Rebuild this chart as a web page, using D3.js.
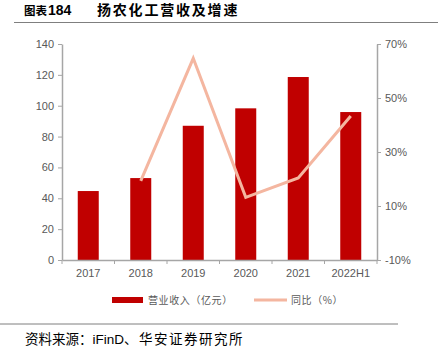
<!DOCTYPE html>
<html><head><meta charset="utf-8">
<script src="https://cdn.jsdelivr.net/npm/d3@7"></script>
<style>body{margin:0;background:#fff}svg{display:block}</style>
</head><body>
<script>
const categories = ["2017","2018","2019","2020","2021","2022H1"];
const revenue = [44.7, 53.1, 87.0, 98.3, 118.6, 95.9];
const growth = [null, 19.3, 64.7, 13.2, 20.4, 43.3];
const leftTicks = [0,20,40,60,80,100,120,140];
const rightTicks = [-10,10,30,50,70];

const W=438,H=353;
const svg=d3.select("body").append("svg").attr("width",W).attr("height",H);
const font="Liberation Sans, Arial, 'Noto Sans CJK SC', sans-serif";
const cjk="'Noto Sans CJK SC', sans-serif";
const axisColor="#a6a6a6", textColor="#595959";

// title
const t=svg.append("text").attr("y",15).attr("font-family",cjk).attr("font-weight","bold").attr("fill","#000");
t.append("tspan").attr("x",24).attr("font-size",11.5).attr("letter-spacing",0).text("图表");
t.append("tspan").attr("x",48).attr("font-family",font).attr("font-size",14).text("184");
t.append("tspan").attr("x",97).attr("font-size",14).attr("letter-spacing",1.8).text("扬农化工营收及增速");
svg.append("line").attr("x1",14).attr("x2",438).attr("y1",22.5).attr("y2",22.5).attr("stroke","#7f7f7f").attr("stroke-width",1);

const x0=62,x1=377,yTop=44,yBot=260;
const xb=d3.scaleBand().domain(categories).range([x0,x1]);
const yL=d3.scaleLinear().domain([0,140]).range([yBot,yTop]);
const yR=d3.scaleLinear().domain([-10,70]).range([yBot,yTop]);

// bars
svg.selectAll("rect.bar").data(categories).enter().append("rect")
  .attr("x",d=>xb(d)+xb.bandwidth()/2-10.5).attr("width",21)
  .attr("y",(d,i)=>yL(revenue[i])).attr("height",(d,i)=>yBot-yL(revenue[i]))
  .attr("fill","#C00000");

// axes
function styleAxis(g){
  g.selectAll("path,line").attr("stroke",axisColor);
  g.selectAll("text").attr("fill",textColor).attr("font-family",font).attr("font-size",11);
  g.select(".domain").attr("stroke-width",1.5);
}
const gl=svg.append("g").attr("transform",`translate(${x0},0)`)
  .call(d3.axisLeft(yL).tickValues(leftTicks).tickSize(4).tickSizeOuter(0).tickPadding(4));
styleAxis(gl);
const gr=svg.append("g").attr("transform",`translate(${x1},0)`)
  .call(d3.axisRight(yR).tickValues(rightTicks).tickFormat(d=>d+"%").tickSize(4).tickSizeOuter(0).tickPadding(4));
styleAxis(gr);
const gx=svg.append("g").attr("transform",`translate(0,${yBot})`)
  .call(d3.axisBottom(xb).tickSize(0).tickPadding(9));
styleAxis(gx);
const bounds=categories.map(c=>xb(c)).concat([x1]);
svg.selectAll("line.bt").data(bounds).enter().append("line")
  .attr("x1",d=>d).attr("x2",d=>d).attr("y1",yBot).attr("y2",yBot+4).attr("stroke",axisColor);

// line
const pts=categories.map((c,i)=>({c,v:growth[i]})).filter(d=>d.v!==null);
svg.append("path").datum(pts)
  .attr("d",d3.line().x(d=>xb(d.c)+xb.bandwidth()/2).y(d=>yR(d.v)))
  .attr("fill","none").attr("stroke","#F4B6A0").attr("stroke-width",3);

// legend
svg.append("rect").attr("x",112).attr("y",297).attr("width",31).attr("height",6).attr("fill","#C00000");
svg.append("text").attr("x",148).attr("y",304).attr("font-family",cjk).attr("font-size",10).attr("letter-spacing",0.6).attr("fill",textColor).text("营业收入（亿元）");
svg.append("line").attr("x1",254).attr("x2",287).attr("y1",300).attr("y2",300).attr("stroke","#F4B6A0").attr("stroke-width",3);
svg.append("text").attr("x",291).attr("y",304).attr("font-family",cjk).attr("font-size",10).attr("letter-spacing",0.6).attr("fill",textColor).text("同比（%）");

// source
svg.append("line").attr("x1",0).attr("x2",398).attr("y1",324).attr("y2",324).attr("stroke","#7f7f7f").attr("stroke-width",1);
const s=svg.append("text").attr("y",344).attr("font-family",cjk).attr("font-size",13.5).attr("fill","#000");
s.append("tspan").attr("x",25).attr("letter-spacing",0).text("资料来源：");
s.append("tspan").attr("font-family",font).text("iFinD");
s.append("tspan").attr("letter-spacing",1.5).text("、华安证券研究所");
</script>
</body></html>
